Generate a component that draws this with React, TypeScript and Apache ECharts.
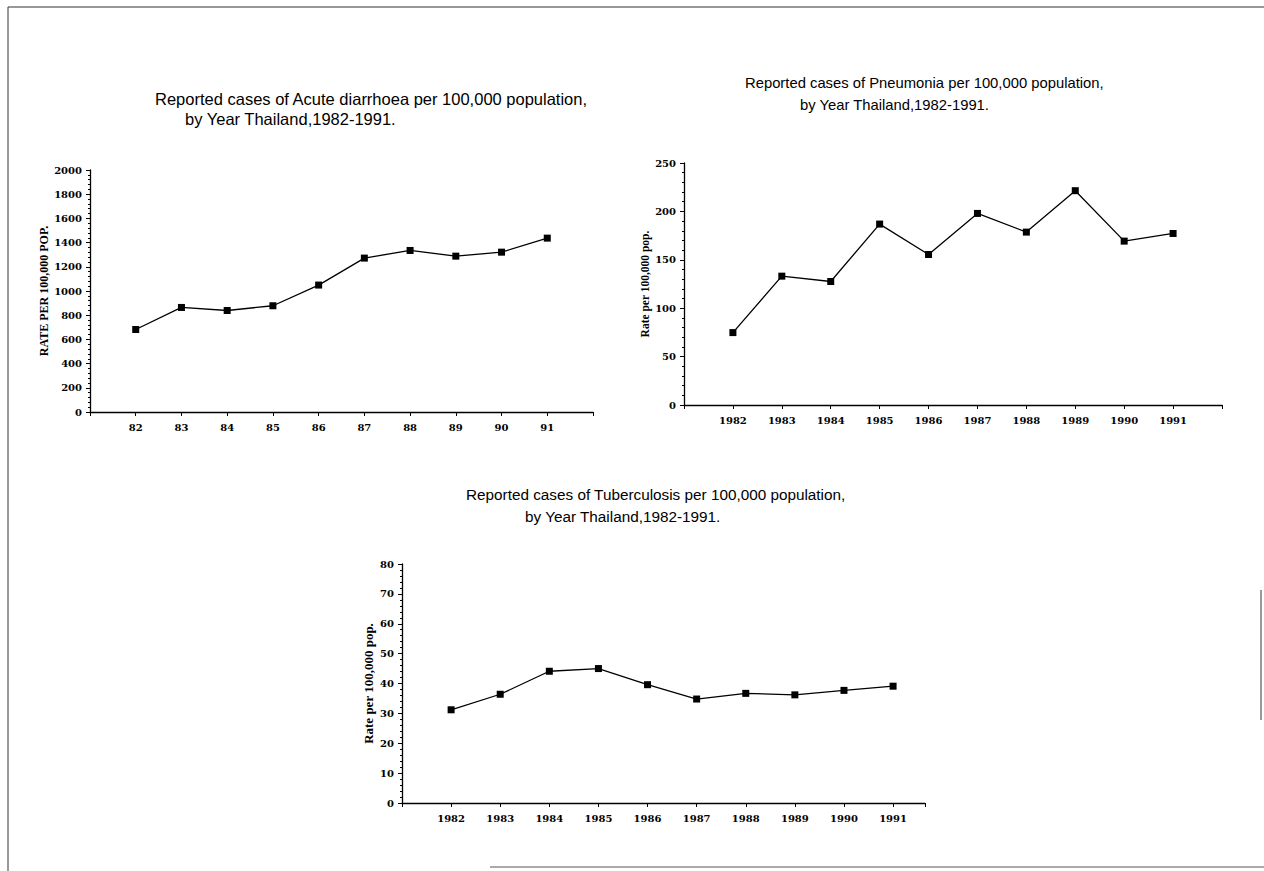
import React, { useEffect, useRef } from "react";
import * as echarts from "echarts";

// ---- data ----
const diarrhoeaYears = [82, 83, 84, 85, 86, 87, 88, 89, 90, 91];
const diarrhoeaRates = [682, 864, 839, 878, 1049, 1272, 1335, 1288, 1321, 1437];

const pneumoniaYears = [1982, 1983, 1984, 1985, 1986, 1987, 1988, 1989, 1990, 1991];
const pneumoniaRates = [74.8, 133.1, 127.6, 186.9, 155.5, 197.9, 178.6, 221.4, 169.3, 177.2];

const tbYears = [1982, 1983, 1984, 1985, 1986, 1987, 1988, 1989, 1990, 1991];
const tbRates = [31.2, 36.4, 44.1, 45.0, 39.6, 34.8, 36.7, 36.2, 37.7, 39.1];

const titles = [
  "Reported cases of Acute diarrhoea per 100,000 population,",
  "by Year Thailand,1982-1991.",
  "Reported cases of Pneumonia per 100,000 population,",
  "by Year Thailand,1982-1991.",
  "Reported cases of Tuberculosis per 100,000 population,",
  "by Year Thailand,1982-1991.",
];
const yNames = ["RATE PER 100,000 POP.", "Rate per 100,000 pop.", "Rate per 100,000 pop."];

const INK = "#000";
const SERIF = "'DejaVu Serif', 'Liberation Serif', serif";
const SANS = "'Liberation Sans', Arial, sans-serif";

function pairs(xs: number[], ys: number[]) {
  return xs.map((x, i) => [x, ys[i]]);
}

function xAxis(gridIndex: number, min: number, max: number, lo: number, hi: number) {
  return {
    type: "value",
    gridIndex,
    min,
    max,
    interval: 1,
    splitLine: { show: false },
    axisLine: { show: true, onZero: false, lineStyle: { color: INK, width: 1.3 } },
    axisTick: { show: true, length: 4, lineStyle: { color: INK } },
    axisLabel: {
      margin: 10,
      color: INK,
      fontFamily: SERIF,
      fontWeight: "bold",
      fontSize: 10,
      showMinLabel: true,
      showMaxLabel: true,
      formatter: (v: number) => (v >= lo && v <= hi && Number.isInteger(v) ? String(v) : ""),
    },
  };
}

function yAxis(gridIndex: number, max: number, interval: number, name: string, nameGap: number, nameSize: number) {
  return {
    type: "value",
    gridIndex,
    min: 0,
    max,
    interval,
    name,
    nameLocation: "middle",
    nameRotate: 90,
    nameGap,
    nameTextStyle: { color: INK, fontFamily: "'Liberation Serif', serif", fontWeight: "bold", fontSize: nameSize },
    splitLine: { show: false },
    axisLine: { show: true, lineStyle: { color: INK, width: 1.3 } },
    axisTick: { show: true, length: 4, lineStyle: { color: INK } },
    minorTick: { show: true, splitNumber: 5, length: 2, lineStyle: { color: INK } },
    axisLabel: {
      margin: 8,
      color: INK,
      fontFamily: SERIF,
      fontWeight: "bold",
      fontSize: 10,
      formatter: (v: number) => String(v),
    },
  };
}

function lineSeries(idx: number, data: number[][]) {
  return {
    type: "line",
    xAxisIndex: idx,
    yAxisIndex: idx,
    data,
    symbol: "rect",
    symbolSize: 7,
    itemStyle: { color: INK },
    lineStyle: { color: INK, width: 1.3 },
  };
}

function titleAt(text: string, left: number, top: number, size: number) {
  return {
    text,
    left,
    top,
    padding: 0,
    textStyle: { fontFamily: SANS, fontWeight: "normal", fontSize: size, color: INK },
  };
}

export default function App() {
  const ref = useRef<HTMLDivElement>(null);
  useEffect(() => {
    if (!ref.current) return;
    const chart = echarts.init(ref.current, undefined, { renderer: "svg" });
    chart.setOption({
      animation: false,
      backgroundColor: "#fff",
      title: [
        titleAt(titles[0], 155, 90, 16.5),
        titleAt(titles[1], 185, 110, 16.5),
        titleAt(titles[2], 745, 75, 14.8),
        titleAt(titles[3], 800, 97, 14.8),
        titleAt(titles[4], 466, 487, 15.3),
        titleAt(titles[5], 525, 509, 15.3),
      ],
      grid: [
        { left: 90, top: 170, width: 503, height: 242 },
        { left: 684, top: 163, width: 538, height: 242 },
        { left: 402, top: 564, width: 523, height: 239 },
      ],
      xAxis: [
        xAxis(0, 81, 92, 82, 91),
        xAxis(1, 1981, 1992, 1982, 1991),
        xAxis(2, 1981, 1991.65, 1982, 1991),
      ],
      yAxis: [
        yAxis(0, 2000, 200, yNames[0], 38, 12),
        yAxis(1, 250, 50, yNames[1], 33, 11.5),
        yAxis(2, 80, 10, yNames[2], 27, 13),
      ],
      series: [
        lineSeries(0, pairs(diarrhoeaYears, diarrhoeaRates)),
        lineSeries(1, pairs(pneumoniaYears, pneumoniaRates)),
        lineSeries(2, pairs(tbYears, tbRates)),
      ],
      graphic: [
        { type: "line", shape: { x1: 8, y1: 7, x2: 1264, y2: 7 }, style: { stroke: "#333", lineWidth: 1 } },
        { type: "line", shape: { x1: 8, y1: 7, x2: 8, y2: 871 }, style: { stroke: "#333", lineWidth: 1 } },
        { type: "line", shape: { x1: 1261, y1: 590, x2: 1261, y2: 720 }, style: { stroke: "#333", lineWidth: 1 } },
        { type: "line", shape: { x1: 490, y1: 867, x2: 1264, y2: 867 }, style: { stroke: "#555", lineWidth: 1 } },
      ],
    });
    return () => chart.dispose();
  }, []);
  return (
    <div
      ref={ref}
      style={{ position: "absolute", left: 0, top: 0, width: 1264, height: 871, background: "#fff" }}
    />
  );
}
